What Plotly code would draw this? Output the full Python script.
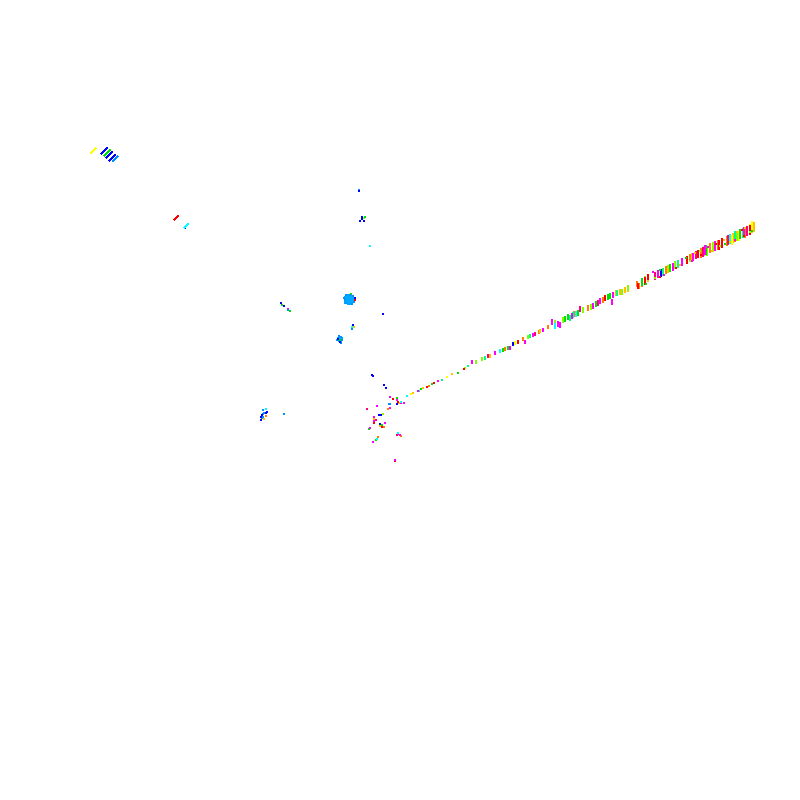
import plotly.graph_objects as go

magenta_x = [658,673,682,693,715,613,612,593,560,558,552,543,533,525,495,472,438,418,390,397,401,404,377,390,374,374,370,385,398,400,373,395,288,744,705,600,572,510]
magenta_y = [274,267,262,257,246,295,302,306,325,324,322,330,335,342,353,362,381,391,397,400,403,403,406,408,417,421,428,423,434,435,442,460,309,232,250,301,316,348]
red_x = [645,648,687,698,722,719,518,434,427,393,398,374,382,397,176,355,395,605,638,750,464]
red_y = [281,278,260,254,243,245,342,383,387,399,402,423,427,435,218,300,461,298,286,230,369]
pink_x = [655,598,747,703,367,376,580,535,488,728,696]
pink_y = [276,303,231,252,409,420,309,334,356,240,255]
orange_x = [642,666,690,701,710,718,727,603,588,548,539,523,429,401,378,388,384,266,637,639,745,735,574,505]
orange_y = [283,270,258,253,248,245,241,300,308,327,332,339,386,436,437,409,427,416,284,286,233,237,314,349]
gold_x = [668,692,733,754,620,628,490,423,413,399,374,380,264,354,452,752,616,625,540]
gold_y = [269,257,238,227,292,289,356,388,393,403,419,426,419,327,374,228,293,290,331]
yellow_x = [750,752,411,739,732,447,515]
yellow_y = [229,226,394,236,240,377,343]
lime_x = [645,675,704,713,737,628,583,563,528,383,364,465,707,622,591,555,482,476]
lime_y = [280,265,251,247,236,288,310,320,337,414,218,368,251,292,307,323,359,362]
green_x = [642,670,706,740,608,578,568,508,432,421,397,382,376,369,351,365,290,282,340,610,596,565,503,458]
green_y = [282,268,250,234,297,313,317,348,384,389,398,425,440,429,294,217,311,305,340,296,304,319,350,373]
spring_x = [663,678,743,573,485,419,570,735,617,530,442,468]
spring_y = [272,264,233,315,358,391,318,236,293,336,380,366]
cyan_x = [730,500,407,401,398,377,352,266,370,186,576,555]
cyan_y = [239,351,396,402,433,439,327,409,246,226,314,326]
azure_x = [389,352,288,263,284,359,390,341,344,345,346,354,353,350,352,346,339,342,337,341,264,263,262,263]
azure_y = [404,329,310,417,414,190,404,337,298,300,303,302,296,295,304,295,336,340,340,343,413,410,418,414]
blue_x = [661,513,372,384,386,397,381,379,380,338,340,355,383,353,281,284,267,262,261,362,185,359,373,266,261,360,364,362]
blue_y = [273,344,375,385,388,404,415,415,424,339,342,298,314,325,303,306,412,415,420,219,228,191,376,413,417,221,221,217]

accent_red = ([742, 716, 701, 676, 660, 744], [230, 244, 255, 268, 277, 236])
accent_lime = ([720, 690, 668, 655, 730, 750, 700], [246, 261, 267, 278, 242, 232, 251])
accent_gold = ([724, 712, 695, 680, 648, 745, 737], [240, 251, 253, 265, 281, 228, 232])
accent_magenta = ([735, 708, 664, 653, 692], [240, 247, 275, 272, 261])
accent_green = ([752, 725, 686, 660, 646], [231, 244, 258, 270, 284])

dash_yellow = ([93], [151])
dash_blue = ([104, 109, 112], [151, 155, 158])
dash_green = ([107], [153])
dash_azure = ([115], [159])
dash_red = ([176], [218])
dash_cyan = ([186], [226])

blob_x = [349, 340, 350, 347]
blob_y = [299, 339, 302, 301]
blob_diam = [11, 6, 7, 7]

colours = dict(magenta="#ff00ff", red="#ff0000", pink="#ff0080", orange="#ff8000",
               gold="#ffc000", yellow="#ffff00", lime="#80ff00", green="#00e000",
               spring="#00ff80", cyan="#00ffff", azure="#0090ff", blue="#0000ff")


def stroke(x, y):
    on_streak = abs(y - (398 - 0.49 * (x - 405))) < 9 and x > 405
    if on_streak and x >= 700:
        return 7, 2.8
    if on_streak and x >= 640:
        return 6, 2.6
    if on_streak and x >= 550:
        return 4, 2.4
    if on_streak and x >= 470:
        return 3, 2
    if on_streak:
        return 2, 1.6
    return 2, 2


fig = go.Figure()
fig.add_trace(go.Scatter(x=blob_x, y=blob_y, mode="markers", hoverinfo="skip",
                         marker=dict(size=blob_diam, color="#00a8ff", opacity=1, line=dict(width=0))))
series = [("orange", orange_x, orange_y), ("gold", gold_x, gold_y), ("yellow", yellow_x, yellow_y),
          ("lime", lime_x, lime_y), ("spring", spring_x, spring_y), ("green", green_x, green_y),
          ("pink", pink_x, pink_y), ("red", red_x, red_y), ("magenta", magenta_x, magenta_y),
          ("cyan", cyan_x, cyan_y), ("azure", azure_x, azure_y), ("blue", blue_x, blue_y)]
for name, xs, ys in series:
    st = [stroke(a, b) for a, b in zip(xs, ys)]
    fig.add_trace(go.Scatter(x=xs, y=ys, mode="markers",
                             marker=dict(symbol="line-ns", size=[s[0] for s in st], opacity=1,
                                         line=dict(color=colours[name], width=[s[1] for s in st]))))
for name, d in [("red", accent_red), ("lime", accent_lime), ("gold", accent_gold),
                ("magenta", accent_magenta), ("green", accent_green)]:
    fig.add_trace(go.Scatter(x=d[0], y=d[1], mode="markers",
                             marker=dict(symbol="square", size=2.5, opacity=1, color=colours[name],
                                         line=dict(width=0))))
for name, d, size in [("yellow", dash_yellow, 6), ("blue", dash_blue, 7), ("green", dash_green, 7),
                      ("azure", dash_azure, 6), ("red", dash_red, 5), ("cyan", dash_cyan, 5)]:
    fig.add_trace(go.Scatter(x=d[0], y=d[1], mode="markers",
                             marker=dict(symbol="line-ne", size=size, opacity=1,
                                         line=dict(color=colours[name], width=2.5))))

hidden = dict(visible=False, showgrid=False, zeroline=False)
fig.update_layout(width=800, height=800, showlegend=False, plot_bgcolor="white", paper_bgcolor="white",
                  margin=dict(l=0, r=0, t=0, b=0),
                  xaxis=dict(range=[0, 800], **hidden),
                  yaxis=dict(range=[800, 0], **hidden))
fig.write_html("out.html", config=dict(displayModeBar=False),
               post_script="document.querySelectorAll('.point').forEach(function(p){p.style.shapeRendering='crispEdges';});"
                           "document.body.style.margin='0';")
